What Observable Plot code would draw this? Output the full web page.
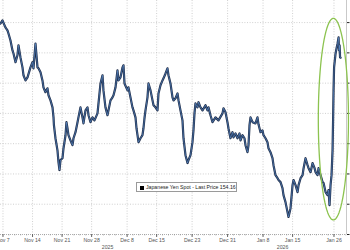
<!DOCTYPE html>
<html><head><meta charset="utf-8">
<script src="https://cdn.jsdelivr.net/npm/d3@7"></script>
<script src="https://cdn.jsdelivr.net/npm/@observablehq/plot@0.6"></script>
<style>
body{margin:0;background:#fff;}
#wrap{position:relative;width:350px;height:250px;overflow:hidden;font-family:"Liberation Sans",Arial,sans-serif;}
#legend{position:absolute;left:136px;top:182px;width:101px;height:10px;box-sizing:border-box;border:1px solid #9a9a9a;background:#fff;font-size:5.2px;line-height:8px;color:#222;white-space:nowrap;padding-left:3px;z-index:2;}
#legend b{display:inline-block;width:4px;height:4px;background:#000;margin-right:2px;vertical-align:-0.5px;}
</style></head><body><div id="wrap"><div id="legend"><b></b>Japanese Yen Spot - Last Price 154.16</div></div>
<script>
// trading-day offset from Nov 7 2025 (weekends removed), fractional = intraday
const tradingDay = [-0.42,-0.08,0.41,0.76,0.93,1.27,1.61,1.78,2.12,2.45,2.62,2.96,3.30,3.47,3.81,4.15,4.65,4.99,5.16,5.50,5.84,6.01,6.35,6.68,6.85,7.19,7.53,7.70,8.04,8.38,8.55,8.62,8.88,9.22,9.39,9.56,9.73,10.07,10.24,10.58,10.74,10.91,11.08,11.42,11.76,11.93,12.27,12.61,12.77,13.11,13.45,13.62,13.96,14.30,14.47,14.81,15.14,15.48,15.99,16.16,16.50,16.84,17.00,17.34,17.68,17.85,18.19,18.53,18.70,19.04,19.37,19.54,19.88,20.22,20.39,20.56,21.07,21.23,21.57,21.91,22.08,22.42,22.59,22.76,22.93,23.27,23.60,23.77,23.94,24.11,24.45,24.62,24.96,25.30,25.47,25.80,26.14,26.31,26.65,26.99,27.16,27.50,27.83,28.00,28.34,28.68,28.85,29.19,29.53,29.70,30.03,30.37,30.54,30.88,31.22,31.39,31.73,32.06,32.23,32.40,32.57,32.91,33.08,33.42,33.76,34.26,34.60,34.77,35.11,35.45,35.95,36.46,37.14,37.31,37.65,37.98,38.15,38.49,38.83,39.00,39.34,39.68,40.02,40.19,40.52,40.86,41.03,41.37,41.54,41.71,41.88,42.22,42.72,43.06,43.23,43.57,43.91,44.08,44.42,44.75,44.92,45.26,45.60,45.77,46.11,46.45,46.62,46.96,47.29,47.46,47.80,48.14,48.31,48.65,48.99,49.16,49.50,49.84,50.01,50.35,50.69,50.86,51.19,51.53,51.70,52.04,52.38,52.72,52.89,53.22,53.39,53.73,54.07,54.24,54.58,54.91,55.08,55.25,55.42,55.59,55.76,55.85,55.93,56.02,56.27,56.44,56.61,56.78,56.86,56.95,57.03,57.12];
const price = [153.03,152.93,153.16,153.26,153.36,153.59,153.92,154.02,154.31,154.08,153.75,154.15,154.48,154.74,154.91,154.81,154.48,154.31,154.51,153.69,154.48,154.51,154.64,154.91,155.14,155.30,155.17,155.40,155.57,155.80,156.13,156.39,156.82,157.22,157.61,157.87,157.54,157.48,157.15,156.72,156.29,156.49,156.72,156.89,157.05,156.82,156.62,156.29,156.13,155.80,156.13,156.33,155.90,155.80,156.06,156.29,156.13,156.23,156.00,155.67,155.01,154.74,155.24,155.80,156.06,155.90,155.57,155.47,155.40,155.14,154.58,154.91,154.81,154.48,154.41,155.01,155.24,155.14,155.47,155.80,155.90,156.13,156.49,156.72,156.95,156.82,156.72,156.49,156.16,155.90,155.47,155.01,155.24,155.57,155.73,155.80,155.90,155.34,155.07,154.91,154.84,154.68,154.51,154.74,155.01,155.47,155.57,155.50,155.34,155.57,155.90,156.23,156.82,157.38,157.64,157.54,157.38,156.95,156.56,156.00,155.67,155.80,155.63,155.80,155.90,155.73,155.90,155.80,156.06,156.29,156.13,156.23,156.00,155.83,155.96,156.29,156.49,156.82,156.62,156.79,156.66,156.82,156.66,156.89,156.72,156.82,157.05,157.28,157.05,156.39,156.13,156.29,156.33,156.13,156.36,156.62,156.56,156.72,156.82,156.95,157.15,157.28,157.48,157.71,158.04,158.14,158.20,158.27,158.47,158.70,158.93,159.26,159.42,159.13,158.37,158.20,158.37,158.60,158.37,158.14,158.04,157.81,157.48,157.71,157.81,157.94,157.64,157.81,157.94,158.04,157.81,158.04,158.27,158.30,158.60,158.70,158.53,159.03,158.37,158.04,157.22,156.23,155.24,154.48,154.02,153.85,153.69,153.49,153.92,153.75,154.15,154.16];
const tickDays = [0,5,10,15,21,26,32,38,44,49,56];
const tickLabels = ["Nov 7","Nov 14","Nov 21","Nov 28","Dec 8","Dec 15","Dec 23","Dec 31","Jan 8","Jan 15","Jan 26"];
const yearDays = [17.7,47.3];
const yearLabels = ["2025","2026"];
const gridPrices = [153,154,155,156,157,158,159];
const dayDomain = [-0.42,58.12];
const priceDomain = [152.27,160];
// highlight ellipse around the late-January move
const ringCenterDay = 55.9, ringHalfDays = 2.55, ringTop = 152.86, ringBottom = 159.52;

const series = tradingDay.map((d,i)=>({d, p: price[i]}));
const labels = tickDays.map((d,i)=>({d, t: tickLabels[i]}));
const years = yearDays.map((d,i)=>({d, t: yearLabels[i]}));
const midP = (ringTop+ringBottom)/2, halfP = (ringBottom-ringTop)/2;
const ring = d3.range(0,361,4).map(a=>({d: ringCenterDay + ringHalfDays*Math.cos(a*Math.PI/180), p: midP + halfP*Math.sin(a*Math.PI/180)}));
const minor = d3.range(0,59);

const chart = Plot.plot({
  width: 350, height: 250,
  marginTop: 0, marginLeft: 0, marginRight: 4, marginBottom: 16,
  style: {fontFamily: '"Liberation Sans", Arial, sans-serif', background: "#fff"},
  x: {domain: dayDomain, axis: null, label: null},
  y: {domain: priceDomain, reverse: true, axis: null, label: null},
  marks: [
    Plot.ruleY(gridPrices, {stroke: "#c4c4c4", strokeDasharray: "1,1.6", strokeWidth: 0.8}),
    Plot.ruleX(tickDays, {stroke: "#c4c4c4", strokeDasharray: "1,1.6", strokeWidth: 0.8}),
    Plot.ruleY([priceDomain[1]], {stroke: "#999", strokeDasharray: "1,1", strokeWidth: 0.8}),
    Plot.ruleX([dayDomain[1]], {stroke: "#bbb", strokeWidth: 0.8}),
    Plot.axisX(minor, {anchor: "bottom", tickSize: 1.5, tickFormat: () => "", stroke: "#888", strokeWidth: 0.5, label: null}),
    Plot.axisX(tickDays, {anchor: "bottom", tickSize: 3, tickFormat: () => "", stroke: "#666", label: null}),
    Plot.axisY(gridPrices.concat([160]), {anchor: "right", tickSize: 2.5, tickFormat: () => "", stroke: "#222", strokeWidth: 1, label: null}),
    Plot.text(labels, {x: "d", text: "t", frameAnchor: "bottom", dy: 7, fontSize: 5.2, fill: "#555"}),
    Plot.text(years, {x: "d", text: "t", frameAnchor: "bottom", dy: 14, fontSize: 5.2, fill: "#555"}),
    Plot.line(series, {x: "d", y: "p", stroke: "#1e2c48", strokeWidth: 2.2, strokeLinejoin: "round"}),
    Plot.line(series, {x: "d", y: "p", stroke: "#5f95d6", strokeWidth: 0.6, strokeLinejoin: "round"}),
    Plot.line(ring, {x: "d", y: "p", stroke: "#8cc34f", strokeWidth: 1.3, curve: "linear"})
  ]
});
document.getElementById("wrap").prepend(chart);
</script></body></html>
